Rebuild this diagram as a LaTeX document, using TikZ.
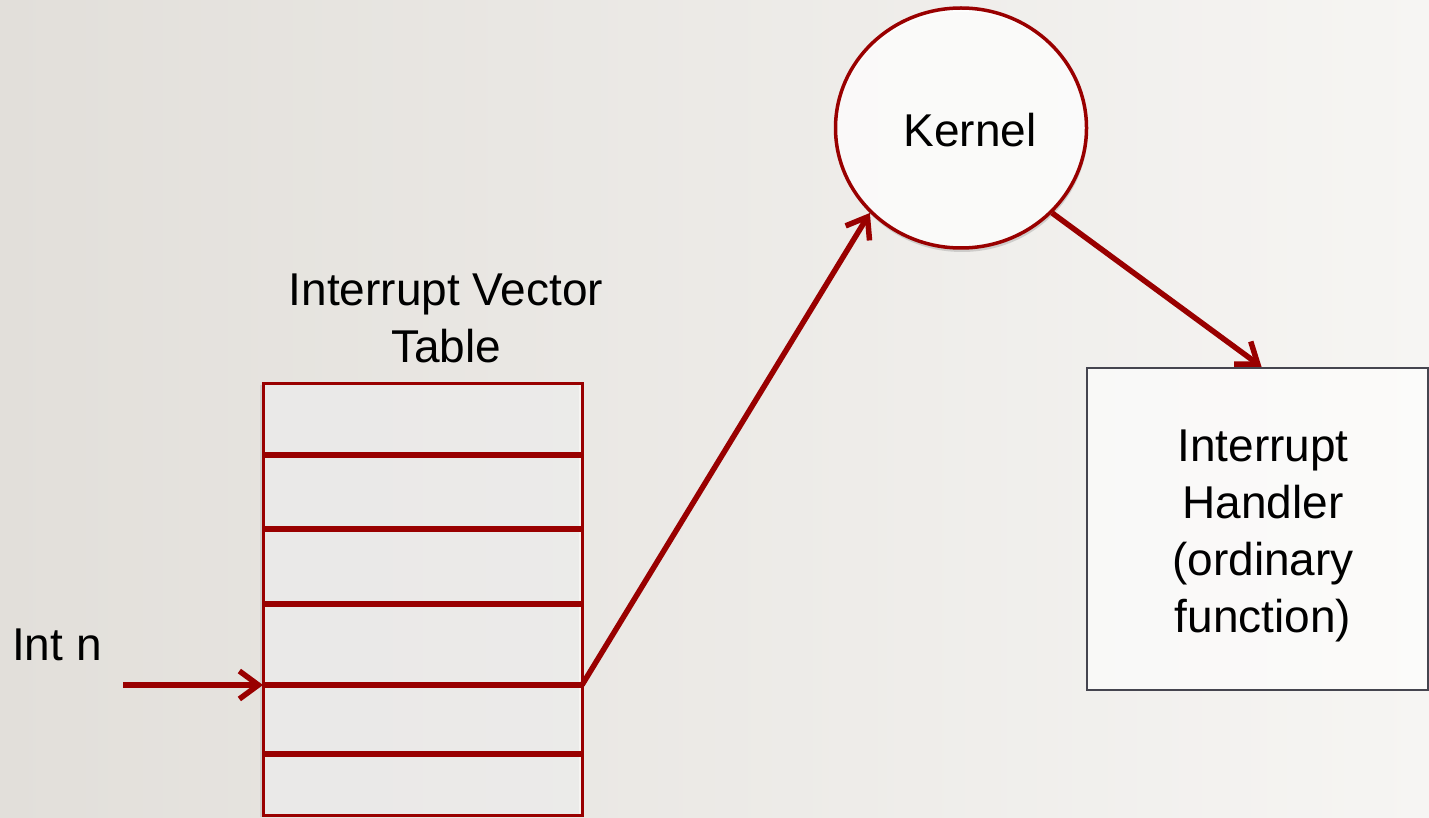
\documentclass[tikz,border=0pt]{standalone}
\usepackage{fontspec}
\setmainfont{Liberation Sans}
\usetikzlibrary{arrows.meta,shapes.geometric,shadows}
\definecolor{dred}{HTML}{990000}
\definecolor{bgA}{HTML}{E2DFDA}
\definecolor{bgB}{HTML}{F6F5F3}
\definecolor{boxgray}{HTML}{45454F}
\tikzset{
  lbl/.style={font=\fontsize{46}{57}\selectfont, text=black, inner sep=0pt},
  conn/.style={draw=dred, line width=5.5pt, -{Straight Barb[length=19pt,width=28pt,line width=5.5pt]}},
  rowline/.style={draw=dred, line width=6pt},
}
\begin{document}
\begin{tikzpicture}[x=1pt,y=-1pt]
\useasboundingbox (0,0) rectangle (1429,818);
\shade[shading angle=115, left color=bgA, right color=bgB] (0,0) rectangle (1429,818);
% table
\node[draw=dred, line width=3pt, fill=white, fill opacity=0.55, draw opacity=1,
      minimum width=319pt, minimum height=432pt, inner sep=0pt,
      drop shadow={opacity=0.2, shadow xshift=-3pt, shadow yshift=-2pt}] (table) at (422.5,599) {};
\coordinate (r1w) at (263,455); \coordinate (r1e) at (582,455);
\coordinate (r2w) at (263,529); \coordinate (r2e) at (582,529);
\coordinate (r3w) at (263,604); \coordinate (r3e) at (582,604);
\coordinate (r4w) at (263,685); \coordinate (r4e) at (582,685);
\coordinate (r5w) at (263,754); \coordinate (r5e) at (582,754);
\foreach \i in {1,...,5} { \draw[rowline] (r\i w) -- (r\i e); }
\node[lbl, anchor=base, align=center] (ivt) at (446,362) {Interrupt Vector\\Table};
% kernel
\node[ellipse, draw=dred, line width=3.5pt, fill=white, fill opacity=0.9, draw opacity=1,
      minimum width=251pt, minimum height=240pt, inner sep=0pt,
      drop shadow={opacity=0.3, shadow xshift=1pt, shadow yshift=-4pt}] (kernel) at (961,128) {};
\node[lbl] (ktext) at (970,130) {Kernel};
% handler
\node[draw=boxgray, line width=2.5pt, fill=white, fill opacity=0.6, draw opacity=1,
      minimum width=341pt, minimum height=322pt, inner sep=0pt] (handler) at (1257.5,529) {};
\node[lbl, align=center] (htext) at (1263,536) {Interrupt\\Handler\\(ordinary\\function)};
% int n
\node[lbl, anchor=base west] (intn) at (12,660) {Int n};
\coordinate (intstart) at (123,685);
% connectors
\draw[conn] (intstart) -- (r4w);
\draw[conn] (r4e) -- (kernel.223);
\draw[conn] (kernel.317) -- ([xshift=4pt]handler.north);
\end{tikzpicture}
\end{document}
